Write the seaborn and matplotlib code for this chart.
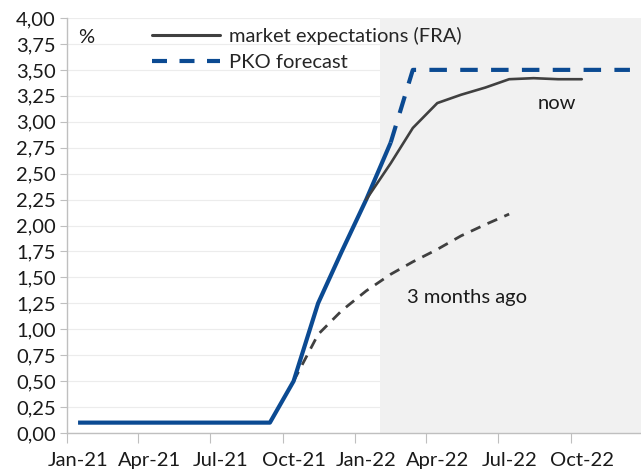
import pandas as pd
import matplotlib.pyplot as plt
import matplotlib.dates as mdates
from matplotlib.lines import Line2D
from matplotlib.ticker import MultipleLocator, FuncFormatter, NullFormatter
import seaborn as sns

# NBP rate path (solid blue)
rate_months = ["2021-01", "2021-02", "2021-03", "2021-04", "2021-05", "2021-06", "2021-07",
               "2021-08", "2021-09", "2021-10", "2021-11", "2021-12", "2022-01", "2022-02"]
rate_values = [0.10, 0.10, 0.10, 0.10, 0.10, 0.10, 0.10,
               0.10, 0.10, 0.50, 1.25, 1.75, 2.25, 2.80]

# PKO forecast (dashed blue)
pko_months = ["2022-02", "2022-03", "2022-04", "2022-05", "2022-06", "2022-07",
              "2022-08", "2022-09", "2022-10", "2022-11", "2022-12"]
pko_values = [2.80, 3.50, 3.50, 3.50, 3.50, 3.50, 3.50, 3.50, 3.50, 3.50, 3.50]

# market expectations now (solid grey)
now_months = ["2022-01", "2022-02", "2022-03", "2022-04", "2022-05",
              "2022-06", "2022-07", "2022-08", "2022-09", "2022-10"]
now_values = [2.25, 2.60, 2.94, 3.18, 3.26, 3.33, 3.41, 3.42, 3.41, 3.41]

# market expectations 3 months ago (dashed grey)
ago_months = ["2021-10", "2021-11", "2021-12", "2022-01", "2022-02",
              "2022-03", "2022-04", "2022-05", "2022-06", "2022-07"]
ago_values = [0.50, 0.95, 1.18, 1.37, 1.53, 1.65, 1.77, 1.90, 2.01, 2.11]

tick_months = ["2021-01", "2021-04", "2021-07", "2021-10", "2022-01", "2022-04", "2022-07", "2022-10"]


def mid(months):
    return pd.to_datetime(months) + pd.Timedelta(days=14)


blue = "#0b4a92"
grey = "#404040"
fs = 14.5

sns.set_style("white")
plt.rcParams["font.family"] = ["Lato", "DejaVu Sans"]

fig = plt.figure(figsize=(6.41, 4.74), dpi=100)
ax = fig.add_axes([67 / 641, 1 - 433 / 474, 574 / 641, 415 / 474])

ax.axvspan(pd.Timestamp("2022-02-01"), pd.Timestamp("2023-01-01"), color="#f1f1f1", lw=0, zorder=1)

sns.lineplot(x=mid(ago_months), y=ago_values, ax=ax, color=grey, lw=2.0,
             linestyle=(0, (3.8, 2.8)), zorder=3)
sns.lineplot(x=mid(rate_months), y=rate_values, ax=ax, color=blue, lw=3.0,
             solid_capstyle="butt", zorder=4)
sns.lineplot(x=mid(pko_months), y=pko_values, ax=ax, color=blue, lw=3.0,
             linestyle=(0, (4.2, 3.2)), zorder=4)
sns.lineplot(x=mid(now_months), y=now_values, ax=ax, color=grey, lw=1.9, zorder=5)

ax.set_xlim(pd.Timestamp("2021-01-01"), pd.Timestamp("2022-12-29"))
ax.set_ylim(0, 4)
ax.yaxis.set_major_locator(MultipleLocator(0.25))
ax.yaxis.set_major_formatter(FuncFormatter(lambda v, p: f"{v:.2f}".replace(".", ",")))

# tick marks at the first of the month, labels centred on the month
ax.set_xticks(pd.to_datetime(tick_months))
ax.xaxis.set_major_formatter(NullFormatter())
ax.set_xticks(mid(tick_months), minor=True)
ax.xaxis.set_minor_formatter(mdates.DateFormatter("%b-%y"))

ax.set_axisbelow(True)
ax.grid(axis="y", color="#ececec", lw=0.8)
ax.grid(axis="x", visible=False)
for side in ["top", "right"]:
    ax.spines[side].set_visible(False)
for side in ["left", "bottom"]:
    ax.spines[side].set_color("#bfbfbf")
    ax.spines[side].set_linewidth(1)
ax.tick_params(axis="both", which="both", labelsize=fs, colors="#1a1a1a")
ax.tick_params(axis="y", left=True, length=5, color="#bfbfbf", pad=3)
ax.tick_params(axis="x", which="major", bottom=True, length=7, color="#bfbfbf")
ax.tick_params(axis="x", which="minor", bottom=True, length=0, pad=14)
ax.set_xlabel("")
ax.set_ylabel("")

ax.text(0.019, 0.952, "%", transform=ax.transAxes, fontsize=fs, ha="left", va="center", color="#1a1a1a")
ax.text(pd.Timestamp("2022-09-13"), 3.18, "now", fontsize=fs, ha="center", va="center", color="#1a1a1a")
ax.text(pd.Timestamp("2022-03-07"), 1.31, "3 months ago", fontsize=fs, ha="left", va="center", color="#1a1a1a")

handles = [
    Line2D([], [], color=grey, lw=2.2),
    Line2D([], [], color=blue, lw=3.0, linestyle=(0, (3.6, 3.0))),
]
ax.legend(handles, ["market expectations (FRA)", "PKO forecast"], loc="upper left",
          bbox_to_anchor=(0.148, 0.978), frameon=False, fontsize=fs, handlelength=3.4,
          handletextpad=0.45, labelspacing=0.45, borderpad=0, borderaxespad=0)

fig.savefig("out.png", dpi=100)
